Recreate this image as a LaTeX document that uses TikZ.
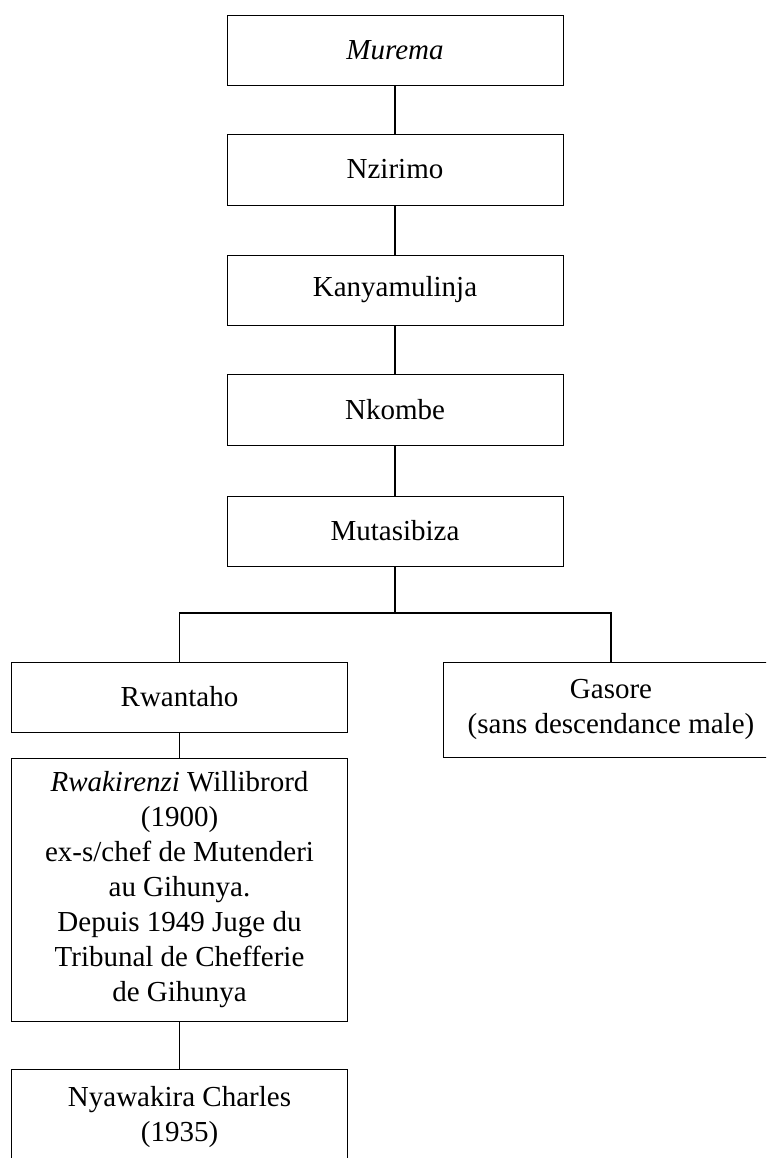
\documentclass[tikz,border=0pt]{standalone}
\usepackage{fontspec}
\setmainfont{Liberation Serif}
\begin{document}
\begin{tikzpicture}[x=1pt,y=-1pt,
  box/.style={draw, line width=0.8pt, minimum width=336pt, inner sep=0pt,
    align=center, font=\fontsize{29}{35}\selectfont},
  link/.style={line width=1.2pt}]
\useasboundingbox (0,0) rectangle (766,1158);
\clip (0,0) rectangle (766,1158);

% main line of descent
\node[box, minimum height=70pt] (murema)     at (395,50)    {\textit{Murema}};
\node[box, minimum height=71pt] (nzirimo)    at (395,169.5) {Nzirimo};
\node[box, minimum height=70pt] (kanya)      at (395,290)   {Kanyamulinja};
\node[box, minimum height=71pt] (nkombe)     at (395,409.5) {Nkombe};
\node[box, minimum height=70pt] (mutasibiza) at (395,531)   {Mutasibiza};

% sons of Mutasibiza
\node[box, minimum height=70pt] (rwantaho) at (179.5,697) {Rwantaho};
\node[box, minimum height=95pt] (gasore)   at (611,709.5) {Gasore\\(sans descendance male)};

% descendants of Rwantaho
\node[box, minimum height=263pt] (rwakirenzi) at (179.5,889.5)
  {\textit{Rwakirenzi} Willibrord\\(1900)\\ex-s/chef de Mutenderi\\au Gihunya.\\Depuis 1949 Juge du\\Tribunal de Chefferie\\de Gihunya};
\node[box, minimum height=96pt] (nyawakira) at (179.5,1117) {Nyawakira Charles\\(1935)};

% connectors
\draw[link] (murema) -- (nzirimo);
\draw[link] (nzirimo) -- (kanya);
\draw[link] (kanya) -- (nkombe);
\draw[link] (nkombe) -- (mutasibiza);
\coordinate (fork) at (395,613);
\draw[link] (mutasibiza.south) -- (fork);
\draw[link] (rwantaho.north) -- (rwantaho.north |- fork) -- (gasore.north |- fork) -- (gasore.north);
\draw[link] (rwantaho) -- (rwakirenzi);
\draw[link] (rwakirenzi) -- (nyawakira);
\end{tikzpicture}
\end{document}
